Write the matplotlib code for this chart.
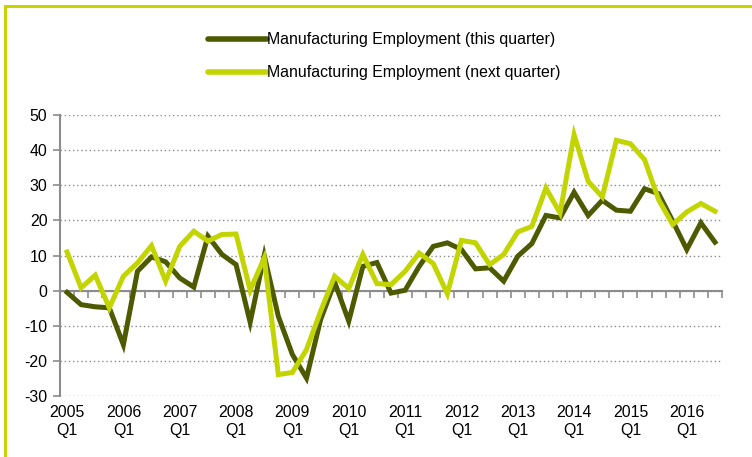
import matplotlib
matplotlib.use("Agg")
import matplotlib.pyplot as plt
from matplotlib.lines import Line2D

plt.rcParams['font.family'] = ['Liberation Sans', 'DejaVu Sans']
plt.rcParams['axes.unicode_minus'] = False

years = list(range(2005, 2017))
quarters = [f"{y} Q{q}" for y in range(2005, 2017) for q in range(1, 5)][:47]

this_quarter = [-0.5, -4.0, -4.6, -4.9, -15.4, 5.5, 9.6, 8.2, 3.6, 1.0,
                15.5, 10.3, 7.4, -9.0, 10.0, -7.3, -18.2, -24.9, -8.3, 2.4,
                -8.7, 6.9, 8.0, -0.7, 0.1, 6.9, 12.6, 13.6, 11.7, 6.2,
                6.5, 2.7, 9.8, 13.4, 21.4, 20.7, 28.0, 21.4, 25.7, 22.9,
                22.6, 29.0, 27.6, 19.8, 11.7, 19.3, 13.8]
next_quarter = [11.0, 0.8, 4.4, -4.9, 4.1, 7.9, 12.8, 2.7, 12.6, 16.9,
                14.1, 16.0, 16.1, 0.1, 9.3, -23.9, -23.3, -16.8, -5.9, 4.1,
                0.6, 10.3, 2.0, 1.7, 5.5, 10.7, 7.7, -0.9, 14.3, 13.6,
                7.4, 10.3, 16.7, 18.3, 29.2, 22.1, 44.4, 31.1, 26.7, 42.8,
                41.8, 37.3, 25.9, 18.8, 22.4, 24.8, 22.6]
tick_labels = [f"{y}\nQ1" for y in years]

dark = '#4d5a00'
light = '#c3d500'
FS = 11.4

fig = plt.figure(figsize=(7.52, 4.57), dpi=100)
ax = fig.add_axes([60/752, 1-396/457, 662/752, 281/457])

x = list(range(len(quarters)))
ax.plot(x, this_quarter, color=dark, lw=3.6, solid_joinstyle='miter', zorder=3,
        label='Manufacturing Employment (this quarter)')
ax.plot(x, next_quarter, color=light, lw=3.6, solid_joinstyle='miter', zorder=4,
        label='Manufacturing Employment (next quarter)')

ax.set_xlim(-0.5, len(quarters) - 0.5)
ax.set_ylim(-30, 50)
ax.set_yticks(range(-30, 51, 10))
ax.yaxis.grid(True, linestyle=(0, (1, 2)), color='#8c8c8c', lw=1.0)
ax.set_axisbelow(True)

for s in ['top', 'right']:
    ax.spines[s].set_visible(False)
ax.spines['bottom'].set_position(('data', 0))
ax.spines['bottom'].set_color('#8c8c8c')
ax.spines['bottom'].set_linewidth(1.5)
ax.spines['left'].set_color('#8c8c8c')
ax.spines['left'].set_linewidth(1.5)

# boundary ticks on zero line
ax.set_xticks([i - 0.5 for i in range(len(quarters) + 1)])
ax.set_xticklabels([])
ax.tick_params(axis='x', which='major', length=5, width=1.2, color='#8c8c8c', direction='out')
ax.set_xticks([i for i in range(0, len(quarters), 4)], minor=True)
ax.set_xticklabels(tick_labels, minor=True)
ax.tick_params(axis='x', which='minor', length=0, pad=82, labelsize=FS)
for lab in ax.get_xticklabels(minor=True):
    lab.set_linespacing(1.3)
ax.tick_params(axis='y', length=5, width=1.2, color='#8c8c8c', labelsize=FS, pad=4)

handles = [Line2D([0], [0], color=dark, lw=4, solid_capstyle='round'),
           Line2D([0], [0], color=light, lw=4, solid_capstyle='round')]
fig.legend(handles, ['Manufacturing Employment (this quarter)',
                     'Manufacturing Employment (next quarter)'],
           loc='upper center', bbox_to_anchor=(0.511, 0.961), frameon=False,
           fontsize=FS, handlelength=3.7, handletextpad=0.0, labelspacing=1.15)

# figure border (top and left)
fig.add_artist(Line2D([5/752, 1], [1-6/457, 1-6/457], color='#c8d400', lw=2.2,
                      transform=fig.transFigure))
fig.add_artist(Line2D([5/752, 5/752], [0, 1-6/457], color='#c8d400', lw=2.2,
                      transform=fig.transFigure))

fig.savefig('out.png', dpi=100)
